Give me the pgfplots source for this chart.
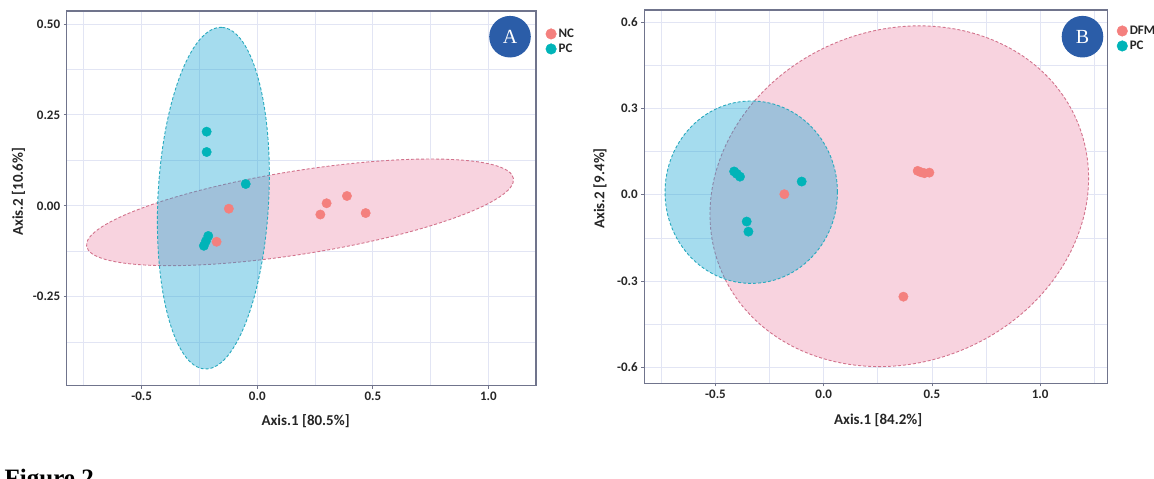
\documentclass[border=0pt]{standalone}
\usepackage{pgfplots}
\pgfplotsset{compat=1.18}
\usepackage{fontspec}
\setmainfont{Carlito}
\newfontfamily\seriffont{Liberation Serif}

\definecolor{tealpt}{RGB}{0,180,184}
\definecolor{pinkpt}{RGB}{244,128,126}
\definecolor{tealfill}{RGB}{30,167,212}
\definecolor{pinkfill}{RGB}{248,211,223}
\definecolor{tealline}{RGB}{40,170,190}
\definecolor{pinkline}{RGB}{210,115,140}
\definecolor{gridc}{RGB}{226,229,244}
\definecolor{framec}{RGB}{112,116,140}
\definecolor{badge}{RGB}{43,93,168}

\pgfplotsset{
  pcoa/.style={
    scale only axis,
    clip=false,
    axis line style={draw=framec, line width=1.5pt},
    tick align=outside, tick pos=left,
    major tick length=3pt, minor tick length=0pt,
    tick style={draw=framec, line width=0.9pt},
    grid=both,
    major grid style={draw=gridc, line width=0.9pt},
    minor grid style={draw=gridc, line width=0.9pt},
    ticklabel style={font=\bfseries\fontsize{13}{13}\selectfont, text=black!85},
    label style={font=\bfseries\fontsize{15}{15}\selectfont, text=black!85},
    legend style={draw=none, fill=none, inner sep=0pt, row sep=1pt,
      font=\bfseries\fontsize{13}{13}\selectfont, text=black!85},
    legend cell align=left,
  },
  ptstyle/.style={only marks, mark=*, mark size=4.7pt, forget plot},
}

\pgfplotstableread{
x y
-0.123 -0.008
-0.176 -0.099
0.273 -0.024
0.300 0.007
0.388 0.027
0.469 -0.020
}\Anc
\pgfplotstableread{
x y
-0.219 0.204
-0.219 0.148
-0.050 0.060
-0.212 -0.083
-0.222 -0.097
-0.231 -0.110
}\Apc
\pgfplotstableread{
x y
-0.182 0.002
0.434 0.083
0.450 0.078
0.465 0.075
0.488 0.077
0.368 -0.354
}\Bdfm
\pgfplotstableread{
x y
-0.414 0.081
-0.402 0.073
-0.387 0.063
-0.102 0.046
-0.356 -0.093
-0.348 -0.128
}\Bpc

\begin{document}
\begin{tikzpicture}
% ---------------- Panel A ----------------
\begin{axis}[pcoa,
  at={(66.7pt,93.3pt)}, anchor=south west,
  width=469.3pt, height=374.7pt,
  xmin=-0.8245, xmax=1.206, ymin=-0.495, ymax=0.536,
  xtick={-0.5,0,0.5,1}, xticklabels={-0.5,0.0,0.5,1.0},
  minor xtick={-0.75,-0.25,0.25,0.75},
  ytick={-0.25,0,0.25,0.5}, yticklabels={-0.25,0.00,0.25,0.50},
  minor ytick={-0.375,-0.125,0.125,0.375},
  xlabel={Axis.1 [80.5\%]}, ylabel={Axis.2 [10.6\%]},
  xlabel style={at={(axis description cs:0.509,0)}, anchor=center, yshift=-35pt},
  ylabel style={at={(axis description cs:-0.1027,0.5178)}, anchor=center},
  legend style={at={(axis description cs:1.020,0.958)}, anchor=north west},
]
\addlegendimage{legend image code/.code={\fill[pinkpt] (5.3pt,0pt) circle (5.3pt);}}
\addlegendentry{NC}
\addlegendimage{legend image code/.code={\fill[tealpt] (5.3pt,0pt) circle (5.3pt);}}
\addlegendentry{PC}
\fill[pinkfill, rotate around={9.02:(axis cs:0.185,-0.018)}] (axis cs:0.185,-0.018) ellipse [x radius=216.1pt, y radius=41.7pt];
\draw[pinkline, line width=0.9pt, dash pattern=on 3pt off 2pt, rotate around={9.02:(axis cs:0.185,-0.018)}] (axis cs:0.185,-0.018) ellipse [x radius=216.1pt, y radius=41.7pt];
\addplot[ptstyle, pinkpt] table {\Anc};
\fill[tealfill, fill opacity=0.4, rotate around={87.15:(axis cs:-0.190,0.021)}] (axis cs:-0.190,0.021) ellipse [x radius=171pt, y radius=55.4pt];
\draw[tealline, line width=0.9pt, dash pattern=on 3pt off 2pt, rotate around={87.15:(axis cs:-0.190,0.021)}] (axis cs:-0.190,0.021) ellipse [x radius=171pt, y radius=55.4pt];
\addplot[ptstyle, tealpt] table {\Apc};
\node[circle, fill=badge, minimum size=41.6pt, inner sep=0pt, text=white,
  font=\seriffont\fontsize{20}{20}\selectfont] at (axis description cs:0.9446,0.9314) {A};
\end{axis}
% ---------------- Panel B ----------------
\begin{axis}[pcoa,
  at={(644.3pt,95.7pt)}, anchor=south west,
  width=463pt, height=373.3pt,
  xmin=-0.829, xmax=1.310, ymin=-0.655, ymax=0.642,
  xtick={-0.5,0,0.5,1}, xticklabels={-0.5,0.0,0.5,1.0},
  minor xtick={-0.75,-0.25,0.25,0.75,1.25},
  ytick={-0.6,-0.3,0,0.3,0.6}, yticklabels={-0.6,-0.3,0.0,0.3,0.6},
  minor ytick={-0.45,-0.15,0.15,0.45},
  xlabel={Axis.1 [84.2\%]}, ylabel={Axis.2 [9.4\%]},
  xlabel style={at={(axis description cs:0.505,0)}, anchor=center, yshift=-36.7pt},
  ylabel style={at={(axis description cs:-0.0957,0.522)}, anchor=center},
  legend style={at={(axis description cs:1.02,0.963)}, anchor=north west},
]
\addlegendimage{legend image code/.code={\fill[pinkpt] (5.3pt,0pt) circle (5.3pt);}}
\addlegendentry{DFM}
\addlegendimage{legend image code/.code={\fill[tealpt] (5.3pt,0pt) circle (5.3pt);}}
\addlegendentry{PC}
\fill[pinkfill, rotate around={22.6:(axis cs:0.349,-0.005)}] (axis cs:0.349,-0.005) ellipse [x radius=193pt, y radius=166.1pt];
\draw[pinkline, line width=0.9pt, dash pattern=on 3pt off 2pt, rotate around={22.6:(axis cs:0.349,-0.005)}] (axis cs:0.349,-0.005) ellipse [x radius=193pt, y radius=166.1pt];
\addplot[ptstyle, pinkpt] table {\Bdfm};
\fill[tealfill, fill opacity=0.4] (axis cs:-0.335,0.009) ellipse [x radius=86.2pt, y radius=91.2pt];
\draw[tealline, line width=0.9pt, dash pattern=on 3pt off 2pt] (axis cs:-0.335,0.009) ellipse [x radius=86.2pt, y radius=91.2pt];
\addplot[ptstyle, tealpt] table {\Bpc};
\node[circle, fill=badge, minimum size=41.6pt, inner sep=0pt, text=white,
  font=\seriffont\fontsize{20}{20}\selectfont] at (axis description cs:0.9464,0.9285) {B};
\end{axis}
\node[anchor=base west, inner sep=0pt, font=\seriffont\bfseries\fontsize{25}{25}\selectfont] at (4.5pt,-7.5pt) {Figure 2};
\pgfresetboundingbox
\path[use as bounding box] (0,0) rectangle (1154pt,479pt);
\end{tikzpicture}
\end{document}
